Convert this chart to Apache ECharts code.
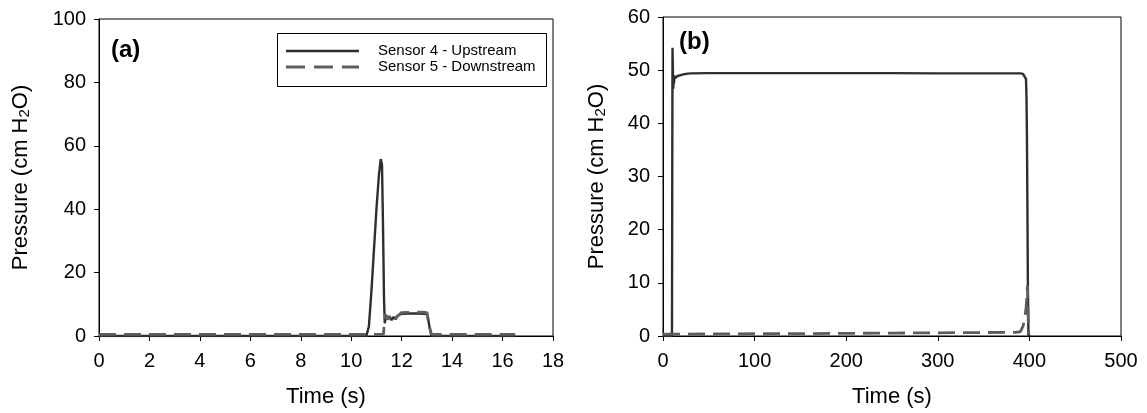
<!DOCTYPE html>
<html>
<head>
<meta charset="utf-8">
<script src="https://cdn.jsdelivr.net/npm/echarts@6/dist/echarts.min.js"></script>
<style>
html,body{margin:0;padding:0;background:#fff;}
#chart{width:1147px;height:413px;}
</style>
</head>
<body>
<div id="chart"></div>
<script>
// ---- Data ----
const seriesNames = ['Sensor 4 - Upstream', 'Sensor 5 - Downstream'];
const panelLabels = ['(a)', '(b)'];
const xTitle = 'Time (s)';

// Panel (a)
const tA4 = [0, 2, 4, 6, 8, 10, 10.6, 10.7, 10.8, 10.9, 11.0, 11.1, 11.17, 11.22, 11.26, 11.3, 11.33, 11.38, 11.45, 11.52, 11.6, 11.68, 11.76, 11.84, 11.92, 12.0, 12.3, 12.6, 12.9, 13.02, 13.1, 13.18, 14, 15, 16, 16.5];
const pA4 = [0, 0, 0, 0, 0, 0, 0, 3, 14, 27, 40, 51, 55.8, 54, 35, 12, 4, 6.5, 5.2, 6.2, 5.0, 6.0, 5.3, 6.4, 6.8, 7.0, 7.1, 7.1, 7.0, 6.9, 3, 0, 0, 0, 0, 0];
const tA5 = [0, 11.28, 11.32, 11.36, 11.43, 11.5, 11.58, 11.66, 11.74, 11.82, 11.9, 11.98, 12.4, 12.8, 13.0, 13.08, 13.18, 13.3, 16.5];
const pA5 = [0.5, 0.5, 5.5, 6.8, 5.2, 6.3, 5.0, 5.8, 5.2, 6.2, 6.6, 7.4, 7.5, 7.5, 7.4, 3.5, 0.6, 0.5, 0.5];

// Panel (b)
const tB4 = [0, 9.8, 10.1, 10.4, 10.8, 11.2, 11.6, 12.0, 12.5, 13.2, 14, 16, 20, 25, 30, 50, 100, 150, 200, 250, 300, 350, 390, 393, 395, 396.3, 396.8, 397.3, 397.8, 398.4, 399, 400.5];
const pB4 = [0, 0, 30, 54.2, 50, 46.5, 48.5, 47.5, 49, 48.5, 48.8, 48.9, 49.1, 49.3, 49.4, 49.45, 49.45, 49.45, 49.45, 49.45, 49.4, 49.4, 49.4, 49.3, 49, 48.3, 45, 38, 25, 8, 0, 0.3];
const tB5 = [0, 50, 100, 150, 200, 250, 300, 350, 385, 390, 393, 395, 396.5, 397.8, 398.6, 399.3];
const pB5 = [0.35, 0.38, 0.42, 0.45, 0.5, 0.55, 0.6, 0.65, 0.7, 0.8, 1.8, 3.5, 5.5, 9.5, 4, 0.3];

// Axis ranges / ticks
const xA = {min: 0, max: 18, interval: 2};
const yA = {min: 0, max: 100, interval: 20};
const xB = {min: 0, max: 500, interval: 100};
const yB = {min: 0, max: 60, interval: 10};

// ---- Build chart ----
const zip = (t, p) => t.map((v, i) => [v, p[i]]);
const FONT = 'Arial, "Liberation Sans", sans-serif';
const solidColor = '#2e2e2e';
const dashColor = '#5e5e5e';

function xAxisCfg(r, gi, nameGap) {
  return {
    type: 'value', gridIndex: gi, min: r.min, max: r.max, interval: r.interval,
    name: xTitle, nameLocation: 'middle', nameGap: nameGap,
    nameTextStyle: {fontSize: 22, color: '#000', fontFamily: FONT},
    axisLine: {show: true, onZero: false, lineStyle: {color: '#000', width: 1}},
    axisTick: {show: true, inside: false, length: 5, lineStyle: {color: '#000'}},
    axisLabel: {fontSize: 20, color: '#000', fontFamily: FONT, margin: 15},
    splitLine: {show: false}
  };
}
function yAxisCfg(r, gi, nameGap) {
  return {
    type: 'value', gridIndex: gi, min: r.min, max: r.max, interval: r.interval,
    name: 'Pressure (cm H{s|2}O)', nameLocation: 'middle', nameGap: nameGap,
    nameTextStyle: {fontSize: 22, color: '#000', fontFamily: FONT, lineHeight: 22,
      rich: {s: {fontSize: 15, color: '#000', fontFamily: FONT, verticalAlign: 'bottom', lineHeight: 12}}},
    axisLine: {show: true, onZero: false, lineStyle: {color: '#000', width: 1}},
    axisTick: {show: true, inside: false, length: 5, lineStyle: {color: '#000'}},
    axisLabel: {fontSize: 20, color: '#000', fontFamily: FONT, margin: 13},
    splitLine: {show: false}
  };
}
function lineSeries(name, data, gi, dashed) {
  return {
    name: name, type: 'line', xAxisIndex: gi, yAxisIndex: gi,
    data: data, showSymbol: false, symbol: 'none', smooth: false,
    lineStyle: dashed ? {color: dashColor, width: 2.8, type: [17, 8]} : {color: solidColor, width: 2.4},
    itemStyle: {color: dashed ? dashColor : solidColor},
    animation: false
  };
}

const chart = echarts.init(document.getElementById('chart'), null, {renderer: 'canvas'});
chart.setOption({
  backgroundColor: '#fff',
  animation: false,
  grid: [
    {left: 99, top: 19, width: 454, height: 318, show: true, borderColor: '#000', borderWidth: 1, backgroundColor: 'transparent'},
    {left: 663, top: 17, width: 458, height: 321, show: true, borderColor: '#000', borderWidth: 1, backgroundColor: 'transparent'}
  ],
  title: [
    {text: panelLabels[0], left: 111, top: 38, padding: 0, textStyle: {fontSize: 24, fontWeight: 'bold', color: '#000', fontFamily: FONT}},
    {text: panelLabels[1], left: 679, top: 30, padding: 0, textStyle: {fontSize: 24, fontWeight: 'bold', color: '#000', fontFamily: FONT}}
  ],
  xAxis: [xAxisCfg(xA, 0, 50), xAxisCfg(xB, 1, 50)],
  yAxis: [yAxisCfg(yA, 0, 67), yAxisCfg(yB, 1, 55)],
  series: [
    lineSeries(seriesNames[0], zip(tA4, pA4), 0, false),
    lineSeries(seriesNames[1], zip(tA5, pA5), 0, true),
    lineSeries(seriesNames[0], zip(tB4, pB4), 1, false),
    lineSeries(seriesNames[1], zip(tB5, pB5), 1, true)
  ],
  graphic: [
    {type: 'rect', shape: {x: 277.5, y: 33.5, width: 269, height: 53}, style: {fill: '#fff', stroke: '#000', lineWidth: 1}, z: 10},
    {type: 'line', shape: {x1: 286, y1: 51, x2: 359, y2: 51}, style: {stroke: solidColor, lineWidth: 2.4}, z: 11},
    {type: 'line', shape: {x1: 286, y1: 67, x2: 359, y2: 67}, style: {stroke: dashColor, lineWidth: 2.8, lineDash: [19, 9]}, z: 11},
    {type: 'text', x: 378, y: 51, style: {text: seriesNames[0], fontSize: 15, fontFamily: FONT, fill: '#000', textVerticalAlign: 'middle', verticalAlign: 'middle'}, z: 11},
    {type: 'text', x: 378, y: 67, style: {text: seriesNames[1], fontSize: 15, fontFamily: FONT, fill: '#000', textVerticalAlign: 'middle', verticalAlign: 'middle'}, z: 11}
  ]
});
</script>
</body>
</html>
